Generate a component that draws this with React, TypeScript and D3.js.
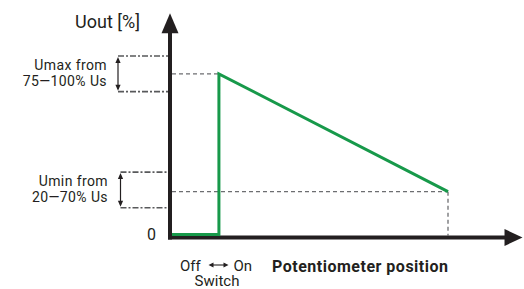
import * as d3 from 'd3';

// potentiometer position (0–100 %) and output voltage (0–100 %), schematic values
const positions = [0, 17, 17, 100];
const outputs = [0, 0, 90, 24];

// output ranges shown by the brackets on the left
const rangeLabels = [
  { lines: ['Umax from', '75—100% Us'], lo: 80, hi: 100 },
  { lines: ['Umin from', '20—70% Us'], lo: 15, hi: 35 },
];

const xAxisEnd = 127;
const yAxisEnd = 124;

const INK = '#231f20';
const GREEN = '#17994a';
const GREY = '#6d6e71';
const FONT = 'Roboto, "Open Sans", sans-serif';

export default function App() {
  const width = 524;
  const height = 289;

  const x = d3.scaleLinear().domain([0, 100]).range([172, 448]);
  const y = d3.scaleLinear().domain([0, 100]).range([234.5, 56]);

  const axisX = 170;
  const axisY = y(0) + 3;

  const line = d3.line<number>()
    .x((_, i) => x(positions[i]))
    .y((d) => y(d));

  const peak = outputs[2];
  const low = outputs[3];
  const swX = x(positions[1]);
  const endX = x(positions[3]);

  const xTip = x(xAxisEnd);
  const yTip = y(yAxisEnd);

  return (
    <svg width={width} height={height} style={{ position: 'absolute', left: 0, top: 0 }}
      fontFamily={FONT}>
      <rect width={width} height={height} fill="#fff" />

      {/* guide lines */}
      <g stroke={GREY} strokeWidth={1.3} strokeDasharray="4,3" fill="none">
        <line x1={axisX + 2} x2={swX} y1={y(peak)} y2={y(peak)} />
        <line x1={axisX + 2} x2={endX} y1={y(low)} y2={y(low)} />
        <line x1={endX} x2={endX} y1={y(low)} y2={axisY - 2} />
      </g>

      {/* range brackets */}
      {rangeLabels.map((r, k) => {
        const bx = k === 0 ? 118 : 120.5;
        const tx = k === 0 ? 107 : 108;
        return (
          <g key={k}>
            <g stroke="#58595b" strokeWidth={1.7} strokeDasharray="6,2,2,2" fill="none">
              <line x1={bx} x2={axisX - 2} y1={y(r.hi)} y2={y(r.hi)} />
              <line x1={bx} x2={axisX - 2} y1={y(r.lo)} y2={y(r.lo)} />
            </g>
            <line x1={bx} x2={bx} y1={y(r.hi) + 3} y2={y(r.lo) - 3} stroke={INK} strokeWidth={1.2} />
            <path d={`M${bx},${y(r.hi) + 1}l-2.6,6h5.2z`} fill={INK} />
            <path d={`M${bx},${y(r.lo) - 1}l-2.6,-6h5.2z`} fill={INK} />
            {r.lines.map((t, i) => (
              <text key={i} x={tx} y={y(r.hi) + 13.5 + i * 16.5} textAnchor="end"
                fontSize={14} letterSpacing={0.4} fill={INK}>{t}</text>
            ))}
          </g>
        );
      })}

      {/* axes */}
      <line x1={axisX} x2={axisX} y1={axisY + 2} y2={yTip + 16} stroke={INK} strokeWidth={4} />
      <path d={`M${axisX},${yTip}L${axisX - 8.5},${yTip + 20}L${axisX + 8.5},${yTip + 20}Z`} fill={INK} />
      <line x1={axisX - 2} x2={xTip - 14} y1={axisY} y2={axisY} stroke={INK} strokeWidth={4} />
      <path d={`M${xTip},${axisY}L${xTip - 18},${axisY - 8.5}L${xTip - 18},${axisY + 8.5}Z`} fill={INK} />

      {/* output curve */}
      <path d={line(outputs) || ''} fill="none" stroke={GREEN} strokeWidth={3} strokeLinejoin="miter" />

      {/* labels */}
      <text x={140} y={28} textAnchor="end" fontSize={18} fill={INK}>Uout [%]</text>
      <text x={156} y={240} textAnchor="end" fontSize={16} fill={INK}>0</text>

      <text x={180} y={271} fontSize={15} fill={INK}>Off</text>
      <text x={252} y={271} textAnchor="end" fontSize={15} fill={INK}>On</text>
      <line x1={212} x2={225} y1={265} y2={265} stroke={INK} strokeWidth={1.1} />
      <path d="M208.5,265l5,-2.6v5.2z M228.5,265l-5,-2.6v5.2z" fill={INK} />
      <text x={217} y={286} textAnchor="middle" fontSize={15} fill={INK}>Switch</text>

      <text x={272} y={272} fontSize={16} fontWeight={700} fill={INK}
        textLength={176} lengthAdjust="spacing">Potentiometer position</text>
    </svg>
  );
}
